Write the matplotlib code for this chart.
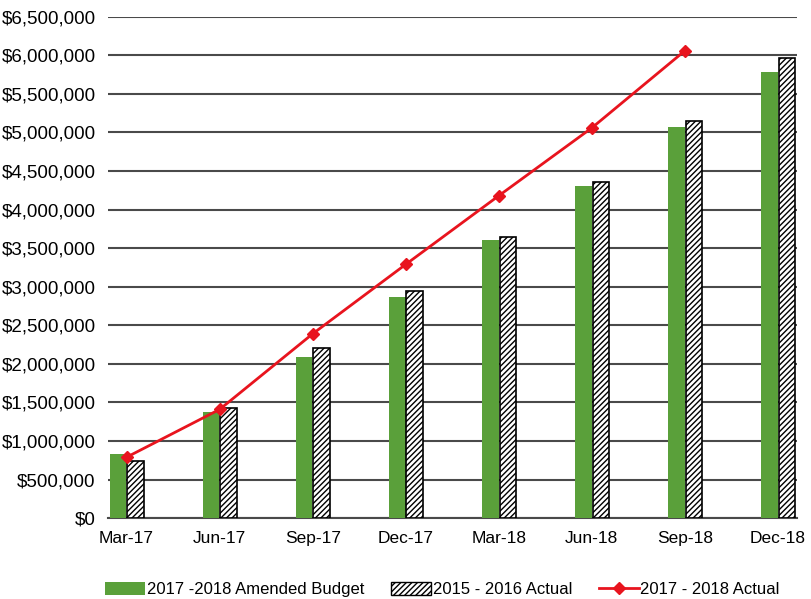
import matplotlib
matplotlib.use("Agg")
import matplotlib.pyplot as plt
import numpy as np
from matplotlib.ticker import FuncFormatter, MultipleLocator
from matplotlib.lines import Line2D
from matplotlib.patches import Patch

plt.rcParams['font.family'] = ['Liberation Sans', 'DejaVu Sans']
plt.rcParams['hatch.color'] = '#444444'
plt.rcParams['hatch.linewidth'] = 1.0

categories = ["Mar-17", "Jun-17", "Sep-17", "Dec-17", "Mar-18", "Jun-18", "Sep-18", "Dec-18"]
budget_2017_2018 = [830000, 1380000, 2090000, 2870000, 3600000, 4310000, 5070000, 5780000]
actual_2015_2016 = [745000, 1430000, 2210000, 2940000, 3640000, 4360000, 5150000, 5960000]
actual_2017_2018 = [790000, 1410000, 2390000, 3290000, 4180000, 5060000, 6060000]

fig = plt.figure(figsize=(8.12, 5.99), dpi=100)
ax = fig.add_axes([0.133, 0.135, 0.848, 0.837])

x = np.arange(len(categories))
w = 0.175
ax.bar(x - 0.09, budget_2017_2018, width=w, color='#5aa03a', edgecolor='none', zorder=3)
ax.bar(x + 0.095, actual_2015_2016, width=w, color='white', edgecolor='black',
       hatch='//////', linewidth=1.2, zorder=3)
xl = np.arange(len(actual_2017_2018))
ax.plot(xl, actual_2017_2018, color='#e8141e', lw=2, marker='D', markersize=6,
        markerfacecolor='#e8141e', zorder=4)

ax.set_ylim(0, 6500000)
ax.set_xlim(-0.2, 7.2)
ax.yaxis.set_major_locator(MultipleLocator(500000))
ax.yaxis.set_major_formatter(FuncFormatter(lambda v, p: "$0" if v == 0 else "${:,.0f}".format(v)))
ax.grid(axis='y', color='#4a4a4a', lw=1.5, zorder=0)
ax.set_axisbelow(True)
for s in ['left', 'right', 'top']:
    ax.spines[s].set_visible(False)
ax.spines['bottom'].set_color('#4a4a4a')
ax.spines['bottom'].set_linewidth(1.5)
ax.set_xticks(x)
ax.set_xticklabels(categories)
ax.tick_params(axis='y', length=0, labelsize=13.5, pad=9)
ax.tick_params(axis='x', length=0, labelsize=12.5, pad=9)

handles = [
    Patch(facecolor='#5aa03a', edgecolor='none'),
    Patch(facecolor='white', edgecolor='black', hatch='//////'),
    Line2D([0], [0], color='#e8141e', lw=2, marker='D', markersize=6),
]
labels = ["2017 -2018 Amended Budget", "2015 - 2016 Actual", "2017 - 2018 Actual"]
fig.legend(handles, labels, loc='lower center', bbox_to_anchor=(0.545, -0.022), ncol=3,
           frameon=False, fontsize=12, handlelength=2.4, handletextpad=0.1,
           columnspacing=1.6, handleheight=0.8)

fig.savefig("out.png", dpi=100)
